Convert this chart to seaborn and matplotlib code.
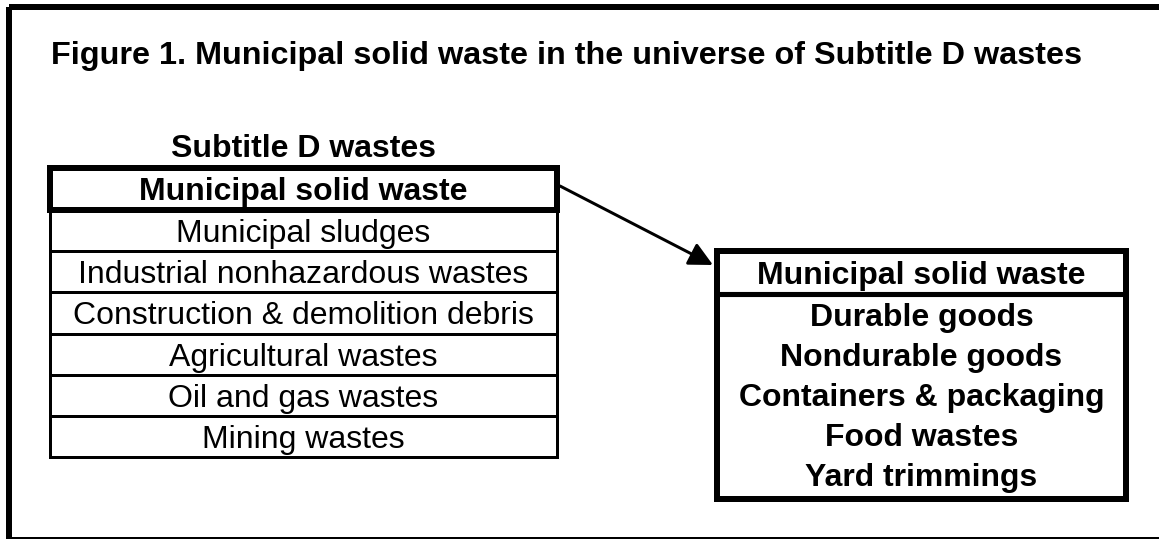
import matplotlib
matplotlib.use("Agg")
import matplotlib.pyplot as plt
from matplotlib.patches import Rectangle
import seaborn as sns

# ---- content ----
title = "Figure 1. Municipal solid waste in the universe of Subtitle D wastes"
left_header = "Subtitle D wastes"
left_top = "Municipal solid waste"
left_rows = ["Municipal sludges", "Industrial nonhazardous wastes",
             "Construction & demolition debris", "Agricultural wastes",
             "Oil and gas wastes", "Mining wastes"]
right_header = "Municipal solid waste"
right_items = ["Durable goods", "Nondurable goods", "Containers & packaging",
               "Food wastes", "Yard trimmings"]

sns.set_theme(style="white")
plt.rcParams['font.family'] = ['Liberation Sans', 'DejaVu Sans']

W, H = 1159, 539
fig = plt.figure(figsize=(W / 100, H / 100), dpi=100)
ax = fig.add_axes([0, 0, 1, 1])
ax.set_xlim(0, W)
ax.set_ylim(H, 0)
ax.axis('off')

PX = 0.72  # points per pixel
thick = 6 * PX
thin = 3 * PX
fs_title = 23.3
fs_bold = 23
fs_reg = 23
cap = 0.716 * 100 / 72  # cap height in px per pt


def centered(x, yc, s, fs, bold=False):
    ax.text(x, yc + cap * fs / 2, s, ha='center', va='baseline', fontsize=fs,
            fontweight='bold' if bold else 'normal', color='black')


# outer frame (runs off the right edge)
ax.add_patch(Rectangle((9, 7), 1200, 533, fill=False, lw=thick, ec='black',
                       joinstyle='miter'))

# title
ax.text(51, 64, title, ha='left', va='baseline', fontsize=fs_title,
        fontweight='bold', color='black')

# left table
lx0, lx1 = 50, 557
lcx = (lx0 + lx1) / 2
ax.text(lcx, 157, left_header, ha='center', va='baseline', fontsize=fs_bold,
        fontweight='bold', color='black')
top0, top1 = 168, 210
row_h = 41.2
n = len(left_rows)
bottom = top1 + row_h * n
ax.plot([lx0, lx0], [top1, bottom], color='black', lw=thin, solid_capstyle='projecting')
ax.plot([lx1, lx1], [top1, bottom], color='black', lw=thin, solid_capstyle='projecting')
for i, lab in enumerate(left_rows):
    yb = top1 + row_h * (i + 1)
    ax.plot([lx0, lx1], [yb, yb], color='black', lw=thin, solid_capstyle='projecting')
    centered(lcx, yb - row_h / 2, lab, fs_reg)
ax.add_patch(Rectangle((lx0, top0), lx1 - lx0, top1 - top0, fill=False,
                       lw=thick, ec='black', joinstyle='miter'))
centered(lcx, (top0 + top1) / 2, left_top, fs_bold, bold=True)

# right box
rx0, rx1 = 717, 1126
ry0, ry1 = 251, 499
rdiv = 294
rcx = (rx0 + rx1) / 2
ax.add_patch(Rectangle((rx0, ry0), rx1 - rx0, ry1 - ry0, fill=False,
                       lw=thick, ec='black', joinstyle='miter'))
ax.plot([rx0, rx1], [rdiv, rdiv], color='black', lw=thick * 0.85)
centered(rcx, (ry0 + rdiv) / 2, right_header, fs_bold, bold=True)
for i, lab in enumerate(right_items):
    centered(rcx, 315 + 40 * i, lab, fs_bold, bold=True)

# arrow
ax.annotate('', xy=(713, 265), xytext=(560, 186),
            arrowprops=dict(arrowstyle='-|>,head_length=0.6,head_width=0.3',
                            mutation_scale=24, lw=thin, color='black',
                            shrinkA=0, shrinkB=0))

fig.savefig('out.png', dpi=100, facecolor='white')
